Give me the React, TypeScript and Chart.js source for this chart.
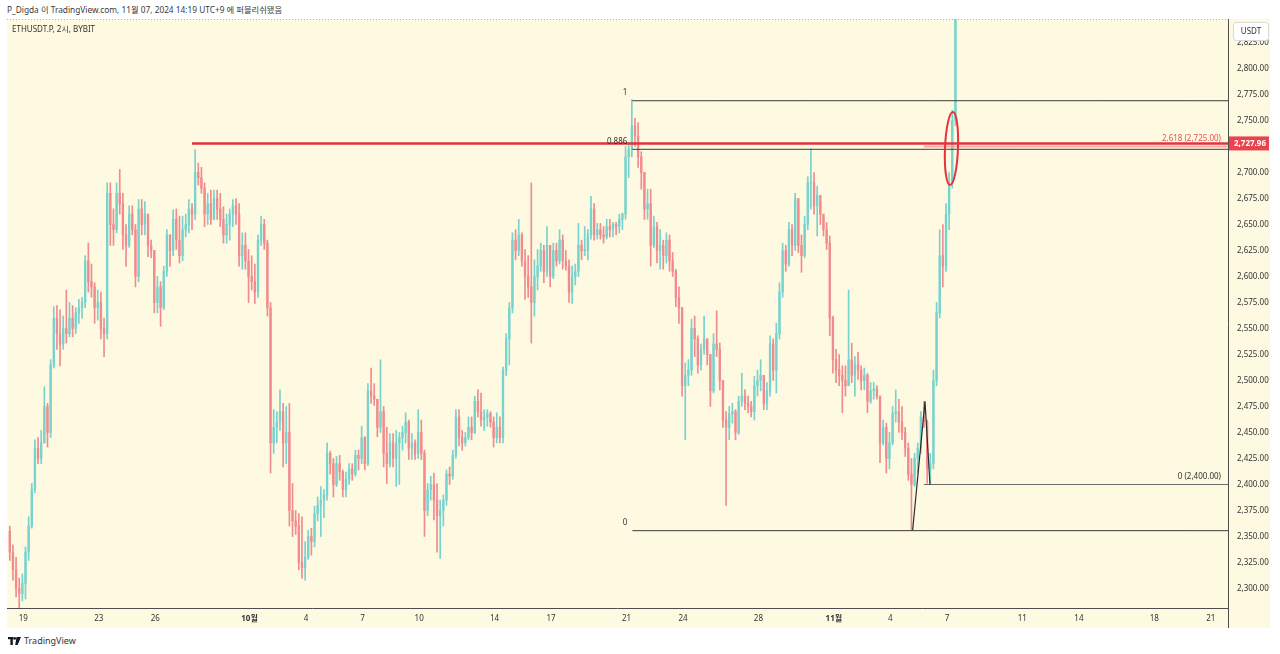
import React, { useEffect, useRef } from 'react';
import { Chart, registerables } from 'chart.js';

Chart.register(...registerables);

// ---- time axis: day index, 0 = Sep 1 2024 (KST); one bar = 4 hours ----
const BAR_START_DAY = 17.283;
const BAR_DAYS = 1 / 6;
const FIRST_OPEN = 2355;

const HIGHS = [
  2360, 2342, 2330, 2310, 2314, 2340, 2369, 2401, 2443, 2445,
  2452, 2494, 2478, 2520, 2571, 2572, 2568, 2562, 2587, 2575,
  2572, 2570, 2578, 2580, 2620, 2632, 2612, 2594, 2587, 2585,
  2560, 2690, 2690, 2665, 2690, 2703, 2680, 2650, 2668, 2668,
  2650, 2674, 2674, 2672, 2660, 2635, 2625, 2600, 2595, 2610,
  2645, 2640, 2664, 2665, 2658, 2658, 2660, 2674, 2670, 2722,
  2709, 2705, 2690, 2680, 2683, 2683, 2683, 2680, 2667, 2660,
  2665, 2674, 2675, 2670, 2642, 2642, 2626, 2620, 2612, 2640,
  2658, 2655, 2635, 2575, 2472, 2470, 2491, 2478, 2475, 2478,
  2401, 2375, 2372, 2369, 2345, 2356, 2358, 2379, 2388, 2398,
  2395, 2440, 2432, 2425, 2427, 2428, 2414, 2412, 2420, 2420,
  2433, 2433, 2456, 2446, 2497, 2512, 2497, 2482, 2520, 2475,
  2455, 2449, 2449, 2452, 2450, 2456, 2469, 2462, 2449, 2443,
  2472, 2462, 2433, 2401, 2408, 2411, 2401, 2385, 2390, 2414,
  2417, 2433, 2472, 2472, 2452, 2450, 2465, 2465, 2485, 2491,
  2488, 2472, 2472, 2470, 2465, 2469, 2465, 2513, 2545, 2575,
  2642, 2645, 2655, 2642, 2626, 2620, 2690, 2616, 2626, 2632,
  2630, 2648, 2630, 2632, 2632, 2645, 2640, 2625, 2616, 2610,
  2612, 2651, 2635, 2648, 2645, 2677, 2670, 2651, 2651, 2648,
  2655, 2655, 2652, 2652, 2660, 2661, 2725, 2728, 2770, 2752,
  2748, 2720, 2700, 2684, 2684, 2658, 2652, 2645, 2635, 2642,
  2640, 2623, 2607, 2590, 2570, 2517, 2520, 2559, 2562, 2543,
  2535, 2562, 2540, 2525, 2545, 2567, 2536, 2500, 2470, 2475,
  2478, 2472, 2485, 2507, 2491, 2485, 2480, 2504, 2510, 2520,
  2504, 2498, 2543, 2540, 2555, 2594, 2632, 2630, 2652, 2650,
  2680, 2672, 2640, 2658, 2696, 2723, 2700, 2687, 2672, 2658,
  2652, 2639, 2562, 2530, 2525, 2514, 2514, 2587, 2536, 2523,
  2527, 2514, 2512, 2507, 2498, 2498, 2495, 2485, 2462, 2459,
  2450, 2475, 2491, 2482, 2475, 2455, 2440, 2425, 2430, 2440,
  2470, 2480, 2462, 2430, 2510, 2575, 2645, 2650, 2670, 2700,
  2760, 2880,
];

const LOWS = [
  2327, 2308, 2292, 2279, 2288, 2290, 2327, 2358, 2392, 2420,
  2420, 2440, 2436, 2445, 2512, 2530, 2514, 2530, 2536, 2542,
  2542, 2545, 2555, 2560, 2570, 2585, 2580, 2555, 2558, 2540,
  2523, 2540, 2630, 2630, 2642, 2660, 2626, 2610, 2628, 2640,
  2590, 2595, 2640, 2640, 2619, 2618, 2565, 2565, 2552, 2568,
  2600, 2610, 2620, 2626, 2613, 2615, 2638, 2642, 2645, 2655,
  2688, 2680, 2648, 2650, 2650, 2655, 2655, 2648, 2632, 2632,
  2635, 2648, 2650, 2610, 2607, 2607, 2575, 2587, 2574, 2580,
  2630, 2626, 2562, 2411, 2430, 2440, 2452, 2417, 2420, 2360,
  2350, 2352, 2318, 2310, 2308, 2328, 2332, 2340, 2365, 2350,
  2368, 2385, 2410, 2388, 2398, 2404, 2388, 2388, 2400, 2404,
  2408, 2414, 2420, 2414, 2418, 2478, 2476, 2446, 2450, 2417,
  2401, 2417, 2417, 2398, 2400, 2433, 2440, 2424, 2424, 2424,
  2425, 2424, 2350, 2370, 2385, 2366, 2335, 2329, 2360, 2380,
  2400, 2405, 2425, 2437, 2433, 2437, 2443, 2443, 2449, 2465,
  2456, 2452, 2456, 2455, 2436, 2440, 2440, 2440, 2505, 2515,
  2565, 2616, 2620, 2610, 2578, 2580, 2536, 2562, 2587, 2605,
  2594, 2600, 2590, 2598, 2610, 2612, 2607, 2606, 2575, 2574,
  2592, 2600, 2616, 2620, 2616, 2636, 2635, 2636, 2636, 2632,
  2636, 2638, 2638, 2640, 2642, 2645, 2655, 2695, 2715, 2725,
  2705, 2684, 2655, 2655, 2610, 2628, 2613, 2607, 2607, 2613,
  2605, 2600, 2571, 2555, 2485, 2443, 2495, 2505, 2523, 2507,
  2510, 2525, 2515, 2475, 2488, 2523, 2491, 2455, 2380, 2443,
  2459, 2443, 2448, 2475, 2472, 2469, 2465, 2462, 2485, 2490,
  2472, 2472, 2485, 2500, 2488, 2540, 2580, 2605, 2610, 2620,
  2625, 2623, 2604, 2618, 2645, 2665, 2660, 2639, 2650, 2639,
  2626, 2543, 2507, 2498, 2495, 2469, 2485, 2495, 2498, 2485,
  2501, 2491, 2491, 2469, 2478, 2482, 2482, 2421, 2438, 2411,
  2415, 2438, 2460, 2450, 2443, 2427, 2404, 2356, 2398, 2411,
  2430, 2455, 2401, 2400, 2415, 2495, 2560, 2590, 2605, 2645,
  2685, 2745,
];

const CLOSES = [
  2335, 2318, 2300, 2295, 2305, 2335, 2360, 2395, 2435, 2425,
  2440, 2475, 2450, 2515, 2560, 2545, 2535, 2550, 2545, 2560,
  2550, 2565, 2570, 2575, 2615, 2595, 2590, 2570, 2575, 2550,
  2545, 2680, 2650, 2645, 2680, 2670, 2640, 2630, 2660, 2645,
  2600, 2665, 2650, 2660, 2630, 2625, 2575, 2590, 2570, 2605,
  2640, 2625, 2655, 2635, 2620, 2645, 2650, 2665, 2660, 2700,
  2695, 2685, 2660, 2670, 2655, 2675, 2665, 2655, 2640, 2650,
  2660, 2668, 2660, 2620, 2630, 2615, 2600, 2595, 2585, 2635,
  2650, 2632, 2570, 2440, 2455, 2460, 2470, 2440, 2450, 2375,
  2365, 2360, 2325, 2320, 2330, 2350, 2345, 2372, 2380, 2385,
  2390, 2430, 2420, 2400, 2420, 2412, 2395, 2405, 2415, 2410,
  2428, 2425, 2445, 2420, 2490, 2485, 2482, 2455, 2470, 2430,
  2420, 2440, 2425, 2440, 2445, 2450, 2460, 2435, 2440, 2430,
  2450, 2430, 2375, 2395, 2400, 2385, 2370, 2375, 2385, 2410,
  2408, 2428, 2465, 2445, 2440, 2445, 2455, 2450, 2480, 2470,
  2462, 2465, 2468, 2460, 2445, 2455, 2445, 2510, 2540, 2570,
  2635, 2625, 2640, 2615, 2600, 2590, 2575, 2600, 2610, 2625,
  2605, 2630, 2600, 2625, 2615, 2635, 2615, 2610, 2585, 2600,
  2605, 2630, 2625, 2625, 2640, 2665, 2640, 2645, 2640, 2638,
  2648, 2645, 2650, 2648, 2655, 2660, 2715, 2722, 2745, 2735,
  2715, 2700, 2665, 2670, 2630, 2648, 2625, 2630, 2620, 2635,
  2615, 2605, 2580, 2570, 2495, 2505, 2510, 2550, 2540, 2515,
  2530, 2540, 2525, 2490, 2535, 2530, 2500, 2462, 2455, 2468,
  2470, 2450, 2480, 2485, 2478, 2475, 2470, 2495, 2500, 2505,
  2478, 2490, 2535, 2510, 2545, 2585, 2625, 2612, 2645, 2630,
  2675, 2630, 2620, 2650, 2690, 2690, 2668, 2678, 2660, 2645,
  2632, 2560, 2520, 2510, 2505, 2500, 2495, 2520, 2505, 2515,
  2510, 2500, 2505, 2480, 2490, 2492, 2485, 2440, 2455, 2425,
  2440, 2468, 2470, 2460, 2450, 2435, 2410, 2400, 2425, 2435,
  2465, 2460, 2415, 2420, 2500, 2565, 2620, 2610, 2660, 2690,
  2750, 2860,
];

// ---- axes ----
const X_MIN = 17.135;
const X_MAX = 81.91;
const Y_MIN = 2281.25;
const Y_MAX = 2847.6;
const X_TICK_DAYS = [18, 22, 25, 30, 33, 36, 39, 43, 46, 50, 53, 57, 61, 64, 67, 71, 74, 78, 81];
const X_TICK_LABELS = ['19', '23', '26', '10월', '4', '7', '10', '14', '17', '21', '24', '28', '11월', '4', '7', '11', '14', '18', '21'];
const Y_TICKS = [
  2300, 2325, 2350, 2375, 2400, 2425, 2450, 2475, 2500, 2525, 2550,
  2575, 2600, 2625, 2650, 2675, 2700, 2725, 2750, 2775, 2800, 2825,
];

// ---- drawings ----
const RED_LINE_PRICE = 2727.96;
const RED_LINE_START = 26.95;
const FIB_START = 50.31;
const FIB_PRICES = [2769, 2722.3, 2355.6];
const FIB_LABELS = ['1', '0.886', '0'];
const ZIGZAG_X = [65.18, 65.835, 66.1];
const ZIGZAG_Y = [2356, 2480, 2400];
const EXT_START = 65.77;
const EXT_PRICES = [2400, 2725];
const EXT_LABELS = ['0 (2,400.00)', '2.618 (2,725.00)'];
const ELLIPSE_X = 67.24;
const ELLIPSE_Y = 2723;
const ELLIPSE_RX = 0.345;
const ELLIPSE_RY = 35.1;

const UP = '#78d2cd';
const DOWN = '#f08b8e';
const RED = '#e5323b';
const BG = '#fefae1';
const INK = '#333333';
const FONT = "'Noto Sans', 'Noto Sans CJK KR', sans-serif";

const fmt = (v: number) =>
  v.toLocaleString('en-US', { minimumFractionDigits: 2, maximumFractionDigits: 2 });

const overlay = {
  id: 'overlay',
  beforeDraw(chart: any) {
    const { ctx, width, height } = chart;
    ctx.save();
    ctx.fillStyle = BG;
    ctx.fillRect(0, 0, width, height);
    ctx.restore();
  },
  afterDatasetsDraw(chart: any) {
    const { ctx, chartArea } = chart;
    const xs = chart.scales.x;
    const ys = chart.scales.y;
    ctx.save();
    ctx.beginPath();
    ctx.rect(chartArea.left, chartArea.top, chartArea.right - chartArea.left, chartArea.bottom - chartArea.top);
    ctx.clip();
    // ellipse
    const cx = xs.getPixelForValue(ELLIPSE_X);
    const cy = ys.getPixelForValue(ELLIPSE_Y);
    const rx = Math.abs(xs.getPixelForValue(ELLIPSE_X + ELLIPSE_RX) - cx);
    const ry = Math.abs(ys.getPixelForValue(ELLIPSE_Y + ELLIPSE_RY) - cy);
    ctx.beginPath();
    ctx.ellipse(cx, cy, rx, ry, 0.04, 0, Math.PI * 2);
    ctx.strokeStyle = RED;
    ctx.lineWidth = 2;
    ctx.stroke();
    // fib labels
    ctx.font = `8px ${FONT}`;
    ctx.textBaseline = 'bottom';
    ctx.textAlign = 'right';
    ctx.fillStyle = INK;
    const fx = xs.getPixelForValue(FIB_START) - 5;
    FIB_PRICES.forEach((p, i) => {
      ctx.fillText(FIB_LABELS[i], fx, ys.getPixelForValue(p) - 4);
    });
    const ex = chartArea.right - 7;
    EXT_PRICES.forEach((p, i) => {
      ctx.fillStyle = i === 1 ? '#e5505a' : INK;
      ctx.fillText(EXT_LABELS[i], ex, ys.getPixelForValue(p) - 4);
    });
    // dotted last-price line at top
    ctx.strokeStyle = '#e9a0a0';
    ctx.lineWidth = 1;
    ctx.setLineDash([1, 2]);
    ctx.beginPath();
    ctx.moveTo(chartArea.left, chartArea.top + 0.5);
    ctx.lineTo(chartArea.right, chartArea.top + 0.5);
    ctx.stroke();
    ctx.restore();
  },
  afterDraw(chart: any) {
    const { ctx, chartArea, height } = chart;
    const ys = chart.scales.y;
    ctx.save();
    // axis borders
    ctx.strokeStyle = '#4d4d4d';
    ctx.lineWidth = 1;
    ctx.beginPath();
    ctx.moveTo(chartArea.right + 0.5, 0);
    ctx.lineTo(chartArea.right + 0.5, height);
    ctx.moveTo(0, chartArea.bottom + 0.5);
    ctx.lineTo(chartArea.right, chartArea.bottom + 0.5);
    ctx.stroke();
    // price label of red line
    const py = ys.getPixelForValue(RED_LINE_PRICE);
    ctx.fillStyle = '#e8434e';
    ctx.fillRect(chartArea.right + 1, py - 7, 40, 14);
    ctx.fillStyle = '#ffffff';
    ctx.font = `bold 8px ${FONT}`;
    ctx.textAlign = 'left';
    ctx.textBaseline = 'middle';
    ctx.fillText(fmt(RED_LINE_PRICE), chartArea.right + 6, py + 0.5);
    // USDT box
    const bx = chartArea.right + 5;
    ctx.fillStyle = '#ffffff';
    ctx.strokeStyle = '#d8d8d8';
    ctx.beginPath();
    ctx.roundRect(bx + 0.5, 3.5, 35, 18, 3);
    ctx.fill();
    ctx.stroke();
    ctx.fillStyle = INK;
    ctx.textAlign = 'center';
    ctx.font = `8px ${FONT}`;
    ctx.fillText('USDT', bx + 18, 12.5);
    ctx.restore();
  },
};

export default function App() {
  const ref = useRef<HTMLCanvasElement>(null);

  useEffect(() => {
    if (!ref.current) return;
    const xAt = (i: number) => BAR_START_DAY + i * BAR_DAYS;
    const opens = CLOSES.map((c, i) => (i === 0 ? FIRST_OPEN : CLOSES[i - 1]));
    const colors = CLOSES.map((c, i) => (c >= opens[i] ? UP : DOWN));
    const wicks = HIGHS.map((h, i) => ({ x: xAt(i), y: [LOWS[i], h] }));
    const bodies = CLOSES.map((c, i) => ({ x: xAt(i), y: [opens[i], c] }));

    const line = (pts: { x: number; y: number }[], color: string, w: number) => ({
      type: 'line' as const,
      data: pts,
      borderColor: color,
      borderWidth: w,
      pointRadius: 0,
      fill: false,
      tension: 0,
      order: 0,
    });

    const datasets: any[] = [
      line([{ x: RED_LINE_START, y: RED_LINE_PRICE }, { x: X_MAX, y: RED_LINE_PRICE }], RED, 2.5),
      ...FIB_PRICES.map((p) => line([{ x: FIB_START, y: p }, { x: X_MAX, y: p }], '#3a3a3a', 1)),
      line(ZIGZAG_X.map((x, i) => ({ x, y: ZIGZAG_Y[i] })), '#2b2b2b', 1.2),
      line([{ x: EXT_START, y: EXT_PRICES[0] }, { x: X_MAX, y: EXT_PRICES[0] }], '#6b6b6b', 1.2),
      line([{ x: EXT_START, y: EXT_PRICES[1] }, { x: X_MAX, y: EXT_PRICES[1] }], 'rgba(240,150,150,0.8)', 2),
      {
        type: 'bar',
        data: bodies,
        backgroundColor: colors,
        barThickness: 1.7,
        minBarLength: 1,
        grouped: false,
        borderWidth: 0,
        order: 1,
      },
      {
        type: 'bar',
        data: wicks,
        backgroundColor: colors,
        barThickness: 1,
        grouped: false,
        borderWidth: 0,
        order: 2,
      },
    ];

    const chart = new Chart(ref.current, {
      type: 'bar',
      data: { datasets },
      plugins: [overlay],
      options: {
        animation: false,
        responsive: false,
        devicePixelRatio: 1,
        events: [],
        layout: { padding: 0, autoPadding: false },
        plugins: { legend: { display: false }, tooltip: { enabled: false } },
        scales: {
          x: {
            type: 'linear',
            min: X_MIN,
            max: X_MAX,
            offset: false,
            grid: { display: false, drawTicks: false },
            border: { display: false },
            afterBuildTicks: (s: any) => {
              s.ticks = X_TICK_DAYS.map((v) => ({ value: v }));
            },
            afterFit: (s: any) => {
              s.height = 20;
              s.paddingLeft = 0;
              s.paddingRight = 0;
            },
            ticks: {
              autoSkip: false,
              maxRotation: 0,
              padding: 6,
              color: INK,
              font: (c: any) => ({
                family: FONT,
                size: 8,
                weight: X_TICK_LABELS[c.index] && X_TICK_LABELS[c.index].includes('월') ? 'bold' : 'normal',
              }),
              callback: (_v: any, i: number) => X_TICK_LABELS[i],
            },
          },
          y: {
            type: 'linear',
            position: 'right',
            min: Y_MIN,
            max: Y_MAX,
            grid: { display: false, drawTicks: false },
            border: { display: false },
            afterBuildTicks: (s: any) => {
              s.ticks = Y_TICKS.map((v) => ({ value: v }));
            },
            afterFit: (s: any) => {
              s.width = 42;
              s.paddingTop = 0;
              s.paddingBottom = 0;
            },
            ticks: {
              padding: 9,
              color: INK,
              font: { family: FONT, size: 8 },
              callback: (v: any) => fmt(Number(v)),
            },
          },
        },
      } as any,
    });
    return () => chart.destroy();
  }, []);

  return (
    <div style={{ position: 'fixed', left: 0, top: 0, width: 1280, height: 654, background: '#ffffff', overflow: 'hidden', fontFamily: FONT }}>
      <div style={{ position: 'absolute', left: 7, top: 4, fontSize: 8.3, color: '#3a3a3a', whiteSpace: 'nowrap', lineHeight: '12px' }}>
        P_Digda 이 TradingView.com, 11월 07, 2024 14:19 UTC+9 에 퍼블리쉬됐음
      </div>
      <div style={{ position: 'absolute', left: 7, top: 19, width: 1263, height: 609 }}>
        <canvas ref={ref} width={1263} height={609} style={{ display: 'block' }} />
        <div style={{ position: 'absolute', left: 5, top: 4, fontSize: 8, color: INK, whiteSpace: 'nowrap', lineHeight: '12px' }}>
          ETHUSDT.P, 2시, BYBIT
        </div>
      </div>
      <div style={{ position: 'absolute', left: 8, top: 635, display: 'flex', alignItems: 'center', gap: 3 }}>
        <svg width="13" height="8" viewBox="0 0 13 8">
          <rect x="0" y="0" width="5" height="2.2" fill="#131722" />
          <rect x="2.4" y="0" width="2.4" height="8" fill="#131722" />
          <circle cx="6.6" cy="1.4" r="1.4" fill="#131722" />
          <polygon points="8.5,0 13,0 9.6,8 7.2,8" fill="#131722" />
        </svg>
        <span style={{ fontSize: 9, color: '#333', lineHeight: '12px' }}>TradingView</span>
      </div>
    </div>
  );
}
